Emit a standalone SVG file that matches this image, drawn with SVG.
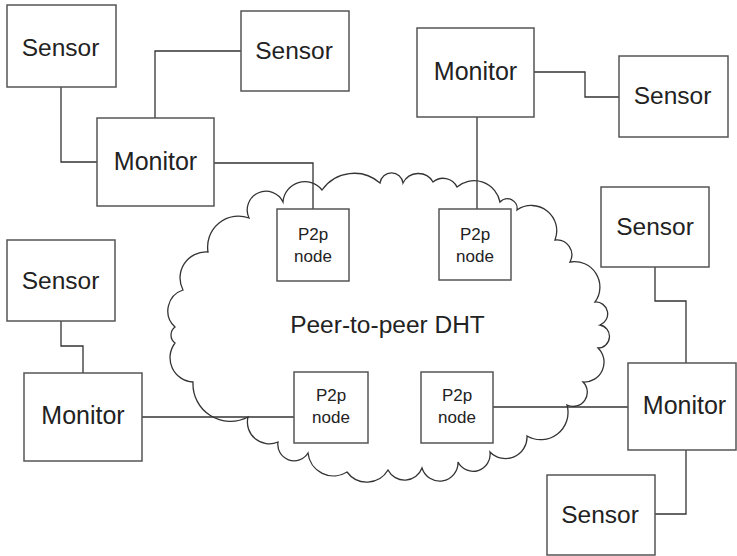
<svg xmlns="http://www.w3.org/2000/svg" width="737" height="556" viewBox="0 0 737 556">
<style>
.box{fill:#fff;stroke:#555;stroke-width:1.5}
.cloud{fill:#fff;stroke:#333;stroke-width:1.3}
.wire{fill:none;stroke:#333;stroke-width:1.3}
text{font-family:"Liberation Sans",Arial,sans-serif;fill:#222;text-anchor:middle}
.big{font-size:24.5px}
.mon{font-size:25px}
.small{font-size:17px}
</style>
<rect width="737" height="556" fill="#fff"/>
<g id="cloud">
<path class="cloud" d="M175,343 A10,10 0 0 1 175,327 A21.9,21.9 0 0 1 183,290 A26,26 0 0 1 208,252 A30.9,30.9 0 0 1 249,218 A18,18 0 0 1 283,202 A21.9,21.9 0 0 1 322,190 A39.3,39.3 0 0 1 380,183 A11.6,11.6 0 0 1 403,183 A17,17 0 0 1 433,182 A15.5,15.5 0 0 1 457,187 A26.4,26.4 0 0 1 500,202 A9.8,9.8 0 0 1 517,210 A25.3,25.3 0 0 1 555,240 A15,15 0 0 1 570,262 A25.4,25.4 0 0 1 595,302 A11.9,11.9 0 0 1 600,325 A11.6,11.6 0 0 1 598,348 A19.8,19.8 0 0 1 583,382 A14.2,14.2 0 0 1 567,405 A27.3,27.3 0 0 1 527,436 A21.5,21.5 0 0 1 490,452 A17,17 0 0 1 458,462 A18.4,18.4 0 0 1 422,468 A18.6,18.6 0 0 1 388,470 A24.6,24.6 0 0 1 347,472 A25.6,25.6 0 0 1 308,453 A16.3,16.3 0 0 1 278,442 A21.8,21.8 0 0 1 248,417 A37.5,37.5 0 0 1 193,382 A24.3,24.3 0 0 1 175,343 Z"/>
<text x="387.5" y="333" font-size="24.5">Peer-to-peer DHT</text>
</g>
<g id="connectors">
<polyline class="wire" points="61,87 61,162 97,162"/>
<polyline class="wire" points="155,118 155,51 241,51"/>
<polyline class="wire" points="214,163 313,163 313,209"/>
<polyline class="wire" points="477,117 477,209"/>
<polyline class="wire" points="534,72 585,72 585,97 619,97"/>
<polyline class="wire" points="655,267 655,301 686,301 686,363"/>
<polyline class="wire" points="686,450 686,514 655,514"/>
<polyline class="wire" points="493,407 628,407"/>
<polyline class="wire" points="142,417 294,417"/>
<polyline class="wire" points="61,321 61,346 83,346 83,373"/>
</g>
<g id="sensor-tl"><rect class="box" x="7" y="5" width="109" height="82"/><text class="big" x="60.5" y="55.5">Sensor</text></g>
<g id="sensor-tm"><rect class="box" x="241" y="11" width="108" height="80"/><text class="big" x="294" y="59">Sensor</text></g>
<g id="monitor-tl"><rect class="box" x="97" y="118" width="117" height="88"/><text class="mon" x="155.5" y="169.5">Monitor</text></g>
<g id="monitor-tr"><rect class="box" x="417" y="28" width="117" height="89"/><text class="mon" x="475.5" y="80">Monitor</text></g>
<g id="sensor-tr"><rect class="box" x="619" y="56" width="109" height="81"/><text class="big" x="672.5" y="104">Sensor</text></g>
<g id="sensor-rm"><rect class="box" x="601" y="187" width="108" height="80"/><text class="big" x="655" y="235">Sensor</text></g>
<g id="monitor-br"><rect class="box" x="628" y="363" width="108" height="87"/><text class="mon" x="684.5" y="414">Monitor</text></g>
<g id="sensor-br"><rect class="box" x="547" y="475" width="108" height="80"/><text class="big" x="600" y="523">Sensor</text></g>
<g id="sensor-lb"><rect class="box" x="7" y="240" width="108" height="81"/><text class="big" x="60.5" y="289">Sensor</text></g>
<g id="monitor-lb"><rect class="box" x="24" y="373" width="118" height="88"/><text class="mon" x="83" y="424">Monitor</text></g>
<g id="p2p-1"><rect class="box" x="277" y="209" width="72" height="72"/><text class="small" x="313" y="240">P2p</text><text class="small" x="313" y="262">node</text></g>
<g id="p2p-2"><rect class="box" x="439" y="209" width="72" height="71"/><text class="small" x="475" y="240">P2p</text><text class="small" x="475" y="262">node</text></g>
<g id="p2p-3"><rect class="box" x="294" y="372" width="74" height="71"/><text class="small" x="331" y="400.5">P2p</text><text class="small" x="331" y="423">node</text></g>
<g id="p2p-4"><rect class="box" x="421" y="372" width="72" height="71"/><text class="small" x="457" y="400.5">P2p</text><text class="small" x="457" y="423">node</text></g>
</svg>
